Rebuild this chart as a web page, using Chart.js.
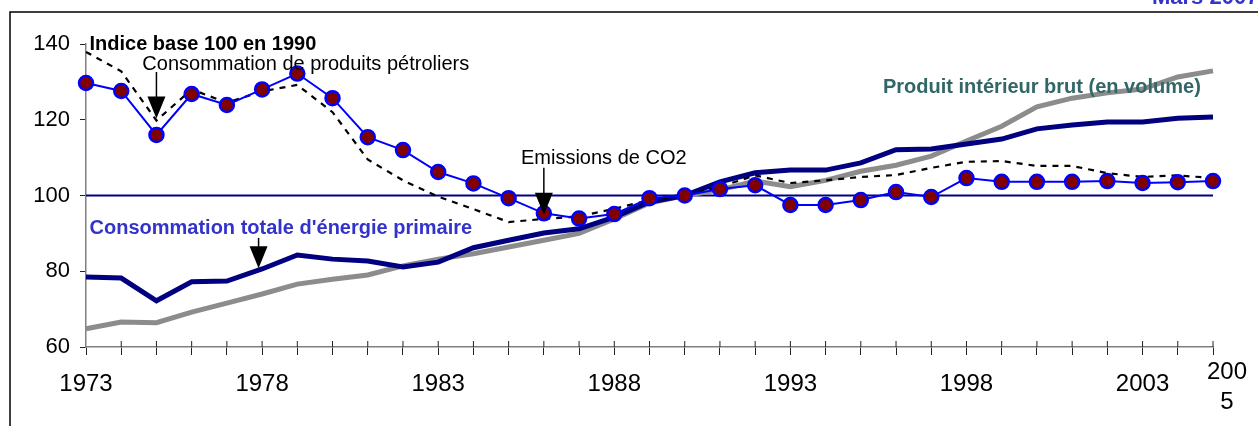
<!DOCTYPE html>
<html>
<head>
<meta charset="utf-8">
<script src="https://cdn.jsdelivr.net/npm/chart.js@4"></script>
<style>
  body { margin: 0; background: #fff; }
  #wrap { position: relative; width: 1258px; height: 426px; }
</style>
</head>
<body>
<div id="wrap"><canvas id="chart" width="1258" height="426"></canvas></div>
<script>
// indice base 100 en 1990
const years = [];
for (let y = 1973; y <= 2005; y++) years.push(String(y));

const petrole = [129.7, 127.6, 116, 126.8, 123.9, 128, 132.2, 125.7, 115.4, 112, 106.2, 103.2, 99.3, 95.3,
  93.9, 95.1, 99.3, 100, 101.7, 102.7, 97.5, 97.5, 98.8, 100.9, 99.6, 104.6, 103.6, 103.6, 103.6, 103.8, 103.3, 103.5, 103.8];
const co2 = [137.9, 132.8, 119.8, 128, 124.5, 127.5, 129.2, 122, 109.5, 104, 99.7, 96.4, 93, 93.8,
  94.5, 96.5, 98.8, 100, 102.3, 105.3, 103.3, 104, 104.9, 105.4, 107.3, 108.9, 109.1, 107.8, 107.8, 105.9, 104.9, 105.3, 104.6];
const energie = [78.5, 78.2, 72.2, 77.2, 77.4, 80.6, 84.3, 83.2, 82.7, 81.1, 82.4, 86.2, 88.2, 90.1,
  91.2, 94.3, 98.3, 100, 103.6, 106, 106.7, 106.7, 108.6, 112.1, 112.3, 113.6, 114.9, 117.6, 118.6, 119.4, 119.4, 120.4, 120.7];
const pib = [64.8, 66.6, 66.4, 69.2, 71.6, 74, 76.6, 77.9, 79, 81.4, 83.2, 84.6, 86.4, 88.2,
  90, 93.8, 98, 100, 101.5, 103.8, 102.3, 104, 106.4, 108, 110.4, 114.4, 118.3, 123.4, 125.7, 127.1, 128.1, 131.3, 132.9];
const base100 = years.map(() => 100);
const yTicks = [60, 80, 100, 120, 140];

const notes = {
  id: 'notes',
  afterDatasetsDraw(chart) {
    const c = chart.ctx, x = chart.scales.x, y = chart.scales.y;
    const px = i => x.getPixelForValue(i), py = v => y.getPixelForValue(v);
    c.save();
    // petits traits au-dessus de l'axe (graduations croisées)
    c.strokeStyle = '#222'; c.lineWidth = 1;
    const base = y.bottom;
    for (let i = 1; i < years.length; i++) {
      c.beginPath(); c.moveTo(px(i), base - 6); c.lineTo(px(i), base); c.stroke();
    }
    c.textBaseline = 'middle';
    function label(t, i, v, font, col) {
      c.font = font; c.fillStyle = col; c.fillText(t, px(i), py(v));
    }
    function arrow(i, v0, v1) {
      const ax = px(i), y0 = py(v0), y1 = py(v1);
      c.strokeStyle = '#000'; c.lineWidth = 1.5;
      c.beginPath(); c.moveTo(ax, y0); c.lineTo(ax, y1 - 20); c.stroke();
      c.fillStyle = '#000';
      c.beginPath(); c.moveTo(ax - 9, y1 - 22); c.lineTo(ax + 9, y1 - 22); c.lineTo(ax, y1); c.closePath(); c.fill();
    }
    label('Indice base 100 en 1990', 0.1, 140, 'bold 20px "Liberation Sans", Arial', '#000');
    label('Consommation de produits pétroliers', 1.6, 134.5, '20px "Liberation Sans", Arial', '#000');
    label('Emissions de CO2', 12.35, 109.7, '20px "Liberation Sans", Arial', '#000');
    label("Consommation totale d'énergie primaire", 0.1, 91.3, 'bold 20px "Liberation Sans", Arial', '#3333cc');
    label('Produit intérieur brut (en volume)', 22.63, 128.6, 'bold 20px "Liberation Sans", Arial', '#336666');
    arrow(2, 132.6, 120.3);
    arrow(13, 107.3, 94.9);
    arrow(4.9, 88.8, 80.8);
    // dernière étiquette de l'axe, décalée comme dans l'original
    c.font = '24px "Liberation Sans", Arial'; c.fillStyle = '#000'; c.textAlign = 'center';
    const lx = px(years.length - 1) + 14;
    c.fillText('200', lx, 372);
    c.fillText('5', lx, 402);
    c.restore();
  }
};

const frame = {
  id: 'frame',
  beforeDraw(chart) {
    const c = chart.ctx;
    c.save();
    c.fillStyle = '#fff'; c.fillRect(0, 0, 1258, 426);
    c.strokeStyle = '#000'; c.lineWidth = 1.5;
    c.beginPath(); c.moveTo(10, 426); c.lineTo(10, 12); c.lineTo(1258, 12); c.stroke();
    c.font = 'bold 22px "Liberation Sans", Arial'; c.fillStyle = '#3333cc';
    c.textBaseline = 'alphabetic';
    c.fillText('Mars 2007', 1152, 4);
    c.restore();
  }
};

new Chart(document.getElementById('chart'), {
  type: 'line',
  data: {
    labels: years,
    datasets: [
      { data: petrole, borderColor: '#0000ff', borderWidth: 2, pointRadius: 7, pointBackgroundColor: '#800000',
        pointBorderColor: '#0000ff', pointBorderWidth: 2.5 },
      { data: co2, borderColor: '#000', borderWidth: 2.2, borderDash: [6, 6], pointRadius: 0 },
      { data: energie, borderColor: '#000080', borderWidth: 5, pointRadius: 0 },
      { data: pib, borderColor: '#8c8c8c', borderWidth: 5, pointRadius: 0 },
      { data: base100, borderColor: '#000080', borderWidth: 2, pointRadius: 0 }
    ]
  },
  options: {
    responsive: false,
    animation: false,
    events: [],
    elements: { line: { tension: 0 } },
    layout: { padding: { top: 44, right: 45, left: 0, bottom: 0 } },
    plugins: { legend: { display: false }, tooltip: { enabled: false } },
    scales: {
      x: {
        offset: false,
        grid: { display: true, drawOnChartArea: false, drawTicks: true, tickLength: 8, tickColor: '#222', lineWidth: 1 },
        border: { color: '#808080', width: 1.5 },
        afterFit: s => { s.height = 79; },
        ticks: {
          autoSkip: false, maxRotation: 0, padding: 15, color: '#000',
          font: { family: '"Liberation Sans", Arial', size: 24 },
          callback: function (v, i) {
            if (i === years.length - 1) return '';
            return i % 5 === 0 ? years[i] : '';
          }
        }
      },
      y: {
        min: 60, max: 140,
        afterBuildTicks: s => { s.ticks = yTicks.map(v => ({ value: v })); },
        afterFit: s => { s.width = 86; },
        grid: { display: true, drawOnChartArea: false, drawTicks: true, tickLength: 6, tickColor: '#222', lineWidth: 1 },
        border: { color: '#808080', width: 1.5 },
        ticks: { padding: 10, color: '#000', font: { family: '"Liberation Sans", Arial', size: 22 } }
      }
    }
  },
  plugins: [frame, notes]
});
</script>
</body>
</html>
